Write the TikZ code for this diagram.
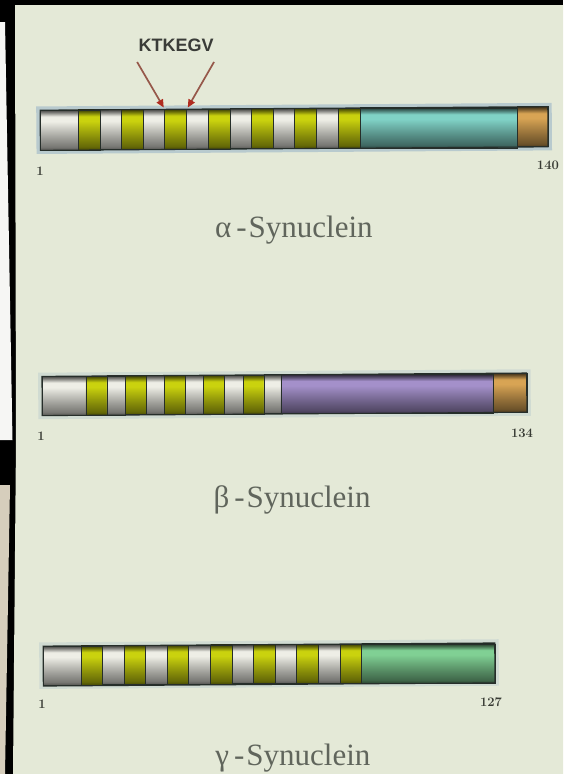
\documentclass[tikz,border=0pt]{standalone}
\usepackage{fontspec}
\newfontfamily\labsans{Liberation Sans}
\newfontfamily\capserif{Liberation Serif}
\usetikzlibrary{arrows.meta}

\definecolor{paper}{RGB}{228,233,215}
\definecolor{strippale}{RGB}{246,246,244}
\definecolor{stripbeige}{RGB}{214,206,188}
\definecolor{segwhite}{RGB}{238,238,230}
\definecolor{segyellow}{RGB}{202,210,14}
\definecolor{segteal}{RGB}{128,210,198}
\definecolor{segorange}{RGB}{216,164,84}
\definecolor{segpurple}{RGB}{164,144,202}
\definecolor{seggreen}{RGB}{128,208,148}
\definecolor{barline}{RGB}{38,46,42}
\definecolor{barhalo}{RGB}{184,202,206}
\definecolor{captiongrey}{RGB}{96,101,92}
\definecolor{numgrey}{RGB}{56,59,52}
\definecolor{motifgrey}{RGB}{58,60,56}
\definecolor{arrowshaft}{RGB}{150,88,74}
\definecolor{arrowtip}{RGB}{176,44,32}
\colorlet{segc}{segwhite}

% cylinder-like vertical shading; the colour segc is read when the shading is used
\pgfdeclareverticalshading[segc]{cylshade}{100bp}{%
  color(0bp)=(segc!35!black);
  color(25bp)=(segc!35!black);
  color(29bp)=(segc!50!black);
  color(40bp)=(segc!66!black);
  color(52bp)=(segc!85!black);
  color(61bp)=(segc);
  color(67bp)=(segc);
  color(72bp)=(segc!55!black);
  color(75bp)=(segc!30!black);
  color(100bp)=(segc!30!black)}

\tikzset{
  segbox/.style={/utils/exec={\colorlet{segc}{#1}}, shading=cylshade,
    draw=barline, line width=0.8pt, rectangle, inner sep=0pt, outer sep=0pt,
    anchor=west},
  baroutline/.style={draw=barline, line width=1.1pt},
  barhaloline/.style={draw=barhalo, line width=3.5pt},
  caption/.style={text=captiongrey, font=\capserif\fontsize{31}{34}\selectfont,
    anchor=base, inner sep=0pt},
  resnum/.style={text=numgrey, font=\bfseries\fontsize{13}{15}\selectfont,
    inner sep=0pt},
  motif/.style={text=motifgrey, font=\labsans\bfseries\fontsize{18}{20}\selectfont,
    inner sep=0pt},
  motifarrow/.style={draw=arrowshaft, line width=1.7pt, shorten >=2pt,
    -{Triangle[length=8pt,width=7pt,color=arrowtip]}}
}

% one bar segment: name, left x, right x, centre y, height, colour
\newcommand\barseg[6]{%
  \node[segbox=#6, minimum width={(#3-#2)*1pt}, minimum height=#5pt] (#1) at (#2,#4) {};}

\begin{document}
\begin{tikzpicture}[x=1pt,y=-1pt]
\useasboundingbox (0,0) rectangle (563,774);

% photographed slide and its dark surround
\fill[black] (0,0) rectangle (563,774);
\fill[paper] (15,5) -- (563,5) -- (563,774) -- (13,774) -- (16,440) -- cycle;
\fill[strippale] (0,22) -- (5,22) -- (12.5,440) -- (0,440) -- cycle;
\fill[stripbeige] (0,485) -- (10,485) -- (5,774) -- (0,774) -- cycle;

\begin{scope}[rotate around={0.4:(281,400)}]

% ---------- alpha-synuclein ----------
\draw[barhaloline] (40,106.5) rectangle (552,150.5);
\barseg{an}{42}{80}{128.5}{40}{segwhite}
\foreach \k in {0,...,6} {
  \pgfmathsetmacro\xa{80+43.33*\k}
  \pgfmathsetmacro\xb{\xa+22}
  \barseg{ay\k}{\xa}{\xb}{128.5}{40}{segyellow}
}
\foreach \k in {0,...,5} {
  \pgfmathsetmacro\xa{102+43.33*\k}
  \pgfmathsetmacro\xb{80+43.33*(\k+1)}
  \barseg{aw\k}{\xa}{\xb}{128.5}{40}{segwhite}
}
\barseg{at}{361.98}{519}{128.5}{40}{segteal}
\barseg{ao}{519}{550}{128.5}{40}{segorange}
\draw[baroutline] (an.north west) rectangle (ao.south east);

\node[motif] (kt) at (178.5,44.3) {KTKEGV};
\coordinate (kts1) at (139.5,61);
\coordinate (kts2) at (216.4,61.5);
\draw[motifarrow] (kts1) -- (ay2.north west);
\draw[motifarrow] (kts2) -- (ay2.north east);

\node[resnum] (a1) at (41.6,169.3) {1};
\node[resnum] (a140) at (549.6,166.9) {140};
\node[caption] (acap) at (295,237.9) {α\hspace{5pt}-\hspace{2pt}Synuclein};

% ---------- beta-synuclein ----------
\draw[barhaloline, draw opacity=0.45] (40,372.75) rectangle (529,415.75);
\barseg{bn}{42}{86}{394.25}{39}{segwhite}
\foreach \k in {0,...,4} {
  \pgfmathsetmacro\xa{86+39.25*\k}
  \pgfmathsetmacro\xb{\xa+21}
  \barseg{by\k}{\xa}{\xb}{394.25}{39}{segyellow}
}
\foreach \k in {0,...,3} {
  \pgfmathsetmacro\xa{107+39.25*\k}
  \pgfmathsetmacro\xb{86+39.25*(\k+1)}
  \barseg{bw\k}{\xa}{\xb}{394.25}{39}{segwhite}
}
\barseg{bw4}{264}{281}{394.25}{39}{segwhite}
\barseg{bp}{281}{493}{394.25}{39}{segpurple}
\barseg{bo}{493}{527}{394.25}{39}{segorange}
\draw[baroutline] (bn.north west) rectangle (bo.south east);

\node[resnum] (b1) at (40.8,434.3) {1};
\node[resnum] (b134) at (521.8,434.7) {134};
\node[caption] (bcap) at (291.3,508) {β\hspace{5pt}-\hspace{2pt}Synuclein};

% ---------- gamma-synuclein ----------
\draw[barhaloline, draw opacity=0.45] (39.2,642.5) rectangle (495.2,685.5);
\barseg{gn}{41.2}{79.2}{664}{39}{segwhite}
\foreach \k in {0,...,6} {
  \pgfmathsetmacro\xa{79.2+43.17*\k}
  \pgfmathsetmacro\xb{\xa+21.5}
  \barseg{gy\k}{\xa}{\xb}{664}{39}{segyellow}
}
\foreach \k in {0,...,5} {
  \pgfmathsetmacro\xa{100.7+43.17*\k}
  \pgfmathsetmacro\xb{79.2+43.17*(\k+1)}
  \barseg{gw\k}{\xa}{\xb}{664}{39}{segwhite}
}
\barseg{gg}{359.72}{493.2}{664}{39}{seggreen}
\draw[baroutline] (gn.north west) rectangle (gg.south east);

\node[resnum] (g1) at (39.9,702.3) {1};
\node[resnum] (g127) at (488.9,703.5) {127};
\node[caption] (gcap) at (290.4,765.5) {γ\hspace{5pt}-\hspace{2pt}Synuclein};

\end{scope}
\end{tikzpicture}
\end{document}
